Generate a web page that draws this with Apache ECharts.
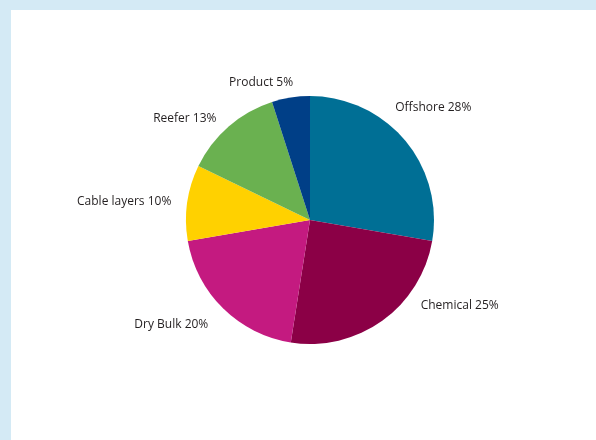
<!DOCTYPE html>
<html>
<head>
<meta charset="utf-8">
<script src="https://cdn.jsdelivr.net/npm/echarts@6/dist/echarts.min.js"></script>
<style>
  html, body { margin: 0; padding: 0; background: #d4eaf5; }
  #panel { position: absolute; left: 11px; top: 10px; width: 585px; height: 430px; background: #fff; }
  #chart { position: absolute; left: 0; top: 0; width: 596px; height: 440px; }
</style>
</head>
<body>
<div id="panel"></div>
<div id="chart"></div>
<script>
  // clockwise from 12 o'clock
  const categories = ['Offshore', 'Chemical', 'Dry Bulk', 'Cable layers', 'Reefer', 'Product']
  const shares = [28, 25, 20, 10, 13, 5]
  const sliceColors = ['#006f95', '#8b0046', '#c41a80', '#ffd100', '#6ab150', '#003f87']

  // small nudges so labels sit where the original put them
  const labelNudge = {
    'Offshore': [-23, -25],
    'Chemical': [27, -24],
    'Dry Bulk': [-2, 8],
    'Product': [9, -4]
  }

  const chart = echarts.init(document.getElementById('chart'))
  chart.setOption({
    animation: false,
    color: sliceColors,
    series: [
      {
        type: 'pie',
        center: [310, 220],
        radius: 124,
        startAngle: 90,
        clockwise: true,
        avoidLabelOverlap: false,
        itemStyle: { borderWidth: 0 },
        label: {
          show: true,
          position: 'outside',
          formatter: p => p.name + ' ' + p.value + '%',
          color: '#231f20',
          fontFamily: 'Open Sans',
          fontSize: 12,
          distanceToLabelLine: 5
        },
        labelLine: { show: false, length: 11, length2: 0 },
        labelLayout: params => {
          const n = labelNudge[categories[params.dataIndex]]
          if (!n) return {}
          return { dx: n[0], dy: n[1] }
        },
        emphasis: { disabled: true },
        data: categories.map((c, i) => ({ name: c, value: shares[i] }))
      }
    ]
  })
</script>
</body>
</html>
